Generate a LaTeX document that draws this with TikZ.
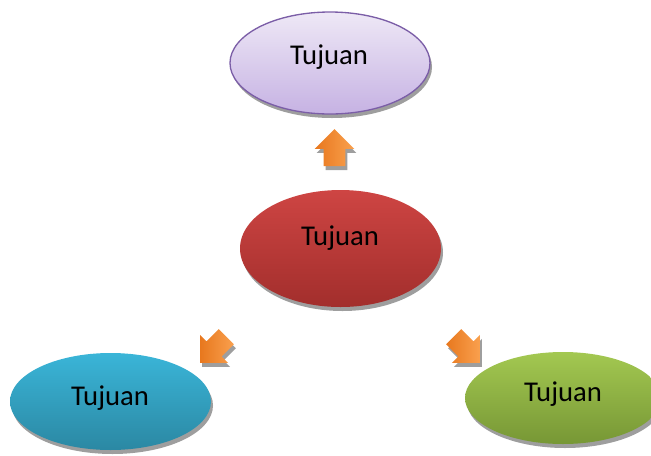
\documentclass[tikz,border=0pt]{standalone}
\usepackage{fontspec}
\setmainfont{Carlito}
\usetikzlibrary{shapes.geometric,shapes.arrows,shadows}

\definecolor{lilacTop}{HTML}{EEE8F6}
\definecolor{lilacBot}{HTML}{C6B2E3}
\definecolor{lilacLine}{HTML}{7B5EA7}
\definecolor{redTop}{HTML}{CE4543}
\definecolor{redBot}{HTML}{A22E2C}
\definecolor{aquaTop}{HTML}{3AB5D8}
\definecolor{aquaBot}{HTML}{2B88A3}
\definecolor{greenTop}{HTML}{A3C851}
\definecolor{greenBot}{HTML}{779735}
\definecolor{orangeTop}{HTML}{F9A04E}
\definecolor{orangeBot}{HTML}{E8781E}

\tikzset{
    softshadow/.style={drop shadow={shadow xshift=1.5pt,shadow yshift=-3pt,
        fill=black!38,opacity=1}},
    goal/.style={ellipse,inner sep=0pt,softshadow},
    goaltext/.style={anchor=base,font=\fontsize{21.5}{25}\selectfont},
    blockarrow/.style={single arrow,inner xsep=0pt,inner ysep=7.875pt,
        minimum height=27.75pt,single arrow head extend=6.75pt,
        single arrow head indent=0pt,left color=orangeBot,right color=orangeTop,
        softshadow}
}

\begin{document}
\begin{tikzpicture}[x=0.75pt,y=-0.75pt]
    \useasboundingbox (0,0) rectangle (651,455);

    % Elipses
    \node[goal,minimum width=150pt,minimum height=76.5pt,
        top color=lilacTop,bottom color=lilacBot,draw=lilacLine,line width=1pt]
        (top) at (330,63) {};
    \node[goal,minimum width=150.75pt,minimum height=87.75pt,
        top color=redTop,bottom color=redBot]
        (mid) at (340.5,248.5) {};
    \node[goal,minimum width=150.75pt,minimum height=72.75pt,
        top color=aquaTop,bottom color=aquaBot]
        (left) at (110.5,401.5) {};
    \node[goal,minimum width=147pt,minimum height=69pt,
        top color=greenTop,bottom color=greenBot]
        (right) at (563,398) {};

    \node[goaltext] (ttop) at (329,64) {Tujuan};
    \node[goaltext] (tmid) at (340,245) {Tujuan};
    \node[goaltext] (tleft) at (110,405) {Tujuan};
    \node[goaltext] (tright) at (563,401.5) {Tujuan};

    % Flechas de bloque
    \node[blockarrow,rotate=90] (aup) at (334.5,153) {};
    \node[blockarrow,rotate=225] (aleft) at (217,346) {};
    \node[blockarrow,rotate=-45] (aright) at (463,346) {};
\end{tikzpicture}
\end{document}
